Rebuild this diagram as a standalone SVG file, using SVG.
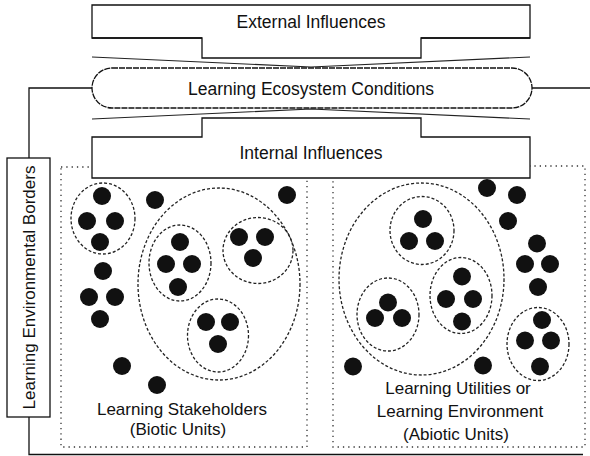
<svg xmlns="http://www.w3.org/2000/svg" width="590" height="456" viewBox="0 0 590 456">
<style>
text{font-family:"Liberation Sans",Arial,sans-serif;font-size:17px;fill:#111;text-anchor:middle}
.top{font-size:17.5px}
.box{fill:#fff;stroke:#111;stroke-width:1.3}
.ln{fill:none;stroke:#111;stroke-width:1.3}
.pinch{fill:none;stroke:#222;stroke-width:1.2}
.region{fill:none;stroke:#333;stroke-width:1.3;stroke-dasharray:1.3 4}
.grp{fill:none;stroke:#222;stroke-width:1.3;stroke-dasharray:3 2}
.pill{fill:#fff;stroke:#111;stroke-width:1.3;stroke-dasharray:6 1}
.u{fill:#111}
</style>
<rect width="590" height="456" fill="#fff"/>
<g id="connectors">
<path class="ln" d="M92,88 H29 V158"/>
<path class="ln" d="M29,417 V454.5 H583"/>
<path class="ln" d="M532,88 H590"/>
<path class="pinch" d="M92,57 L311,67 L530,57"/>
<path class="pinch" d="M92,119 L311,109 L530,119"/>
</g>
<g id="biotic-region">
<rect class="region" x="61" y="167" width="246" height="280"/>
</g>
<g id="abiotic-region">
<rect class="region" x="333" y="166" width="252" height="281"/>
</g>
<g id="external-influences">
<path class="box" d="M92,38 V5 H530 V38 H421 V58 H202 V38 Z"/>
<path class="ln" d="M92,38 H202 M421,38 H530"/>
<text class="top" x="311" y="28">External Influences</text>
</g>
<g id="ecosystem-conditions">
<rect class="pill" x="92" y="68" width="440" height="40" rx="20" ry="20"/>
<text class="top" x="311" y="94.5">Learning Ecosystem Conditions</text>
</g>
<g id="internal-influences">
<path class="box" d="M92,137 H202 V118 H421 V137 H530 V178 H92 Z"/>
<text class="top" x="311" y="158.5">Internal Influences</text>
</g>
<g id="environmental-borders">
<rect class="box" x="7" y="158" width="43" height="259"/>
<text transform="translate(35,287.5) rotate(-90)">Learning Environmental Borders</text>
</g>
<g id="biotic-units">
<ellipse class="grp" cx="103" cy="218.5" rx="32" ry="35.5"/>
<ellipse class="grp" cx="219" cy="284" rx="81" ry="96"/>
<ellipse class="grp" cx="180" cy="263" rx="31" ry="38"/>
<ellipse class="grp" cx="258" cy="250.5" rx="35" ry="33"/>
<ellipse class="grp" cx="218" cy="335.5" rx="30.5" ry="36.5"/>
<circle class="u" cx="102" cy="196" r="9"/>
<circle class="u" cx="87" cy="221" r="9"/>
<circle class="u" cx="115" cy="221" r="9"/>
<circle class="u" cx="100" cy="242" r="9"/>
<circle class="u" cx="155" cy="200" r="9"/>
<circle class="u" cx="287" cy="195" r="9"/>
<circle class="u" cx="180" cy="242" r="9"/>
<circle class="u" cx="166" cy="264" r="9"/>
<circle class="u" cx="192" cy="264" r="9"/>
<circle class="u" cx="178" cy="287" r="9"/>
<circle class="u" cx="239" cy="237" r="9"/>
<circle class="u" cx="265" cy="237" r="9"/>
<circle class="u" cx="253" cy="258" r="9"/>
<circle class="u" cx="206" cy="322" r="9"/>
<circle class="u" cx="230" cy="322" r="9"/>
<circle class="u" cx="218" cy="344" r="9"/>
<circle class="u" cx="103" cy="271" r="9"/>
<circle class="u" cx="89" cy="297" r="9"/>
<circle class="u" cx="115" cy="297" r="9"/>
<circle class="u" cx="100" cy="319" r="9"/>
<circle class="u" cx="122" cy="366" r="9"/>
<circle class="u" cx="157" cy="385" r="9"/>
<text x="182" y="415">Learning Stakeholders</text>
<text x="178" y="435">(Biotic Units)</text>
</g>
<g id="abiotic-units">
<ellipse class="grp" cx="421.5" cy="279" rx="82.5" ry="96"/>
<ellipse class="grp" cx="422" cy="230.5" rx="32" ry="34"/>
<ellipse class="grp" cx="461" cy="295.5" rx="31" ry="38"/>
<ellipse class="grp" cx="388" cy="314.5" rx="31" ry="36.5"/>
<ellipse class="grp" cx="538" cy="344" rx="31" ry="36.5"/>
<circle class="u" cx="423" cy="219" r="9"/>
<circle class="u" cx="409" cy="241" r="9"/>
<circle class="u" cx="435" cy="241" r="9"/>
<circle class="u" cx="462" cy="276.5" r="9"/>
<circle class="u" cx="446" cy="299" r="9"/>
<circle class="u" cx="473" cy="299" r="9"/>
<circle class="u" cx="462" cy="321.5" r="9"/>
<circle class="u" cx="388" cy="302.5" r="9"/>
<circle class="u" cx="375" cy="318" r="9"/>
<circle class="u" cx="402" cy="318" r="9"/>
<circle class="u" cx="542" cy="320" r="9"/>
<circle class="u" cx="525" cy="340.5" r="9"/>
<circle class="u" cx="551" cy="340.5" r="9"/>
<circle class="u" cx="540" cy="366.5" r="9"/>
<circle class="u" cx="487" cy="188" r="9"/>
<circle class="u" cx="517" cy="195" r="9"/>
<circle class="u" cx="508" cy="221" r="9"/>
<circle class="u" cx="537" cy="243.5" r="9"/>
<circle class="u" cx="525" cy="264" r="9"/>
<circle class="u" cx="550" cy="264" r="9"/>
<circle class="u" cx="538" cy="287" r="9"/>
<circle class="u" cx="353" cy="366.5" r="9"/>
<circle class="u" cx="483" cy="365.5" r="9"/>
<text x="458" y="394">Learning Utilities or</text>
<text x="460" y="417">Learning Environment</text>
<text x="456" y="440">(Abiotic Units)</text>
</g>
</svg>
